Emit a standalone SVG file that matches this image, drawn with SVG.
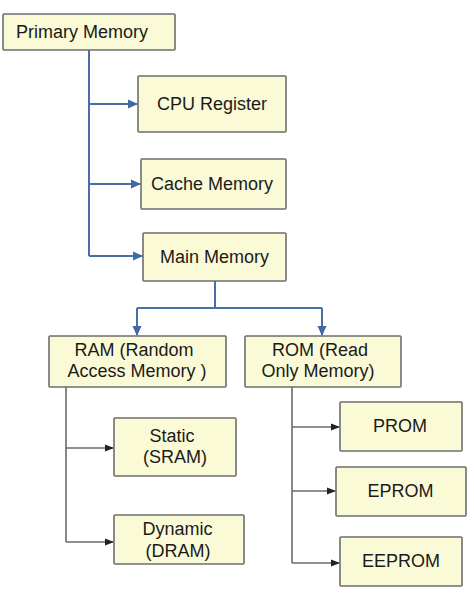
<svg xmlns="http://www.w3.org/2000/svg" width="474" height="614" viewBox="0 0 474 614">
<defs>
<marker id="ab" markerWidth="10" markerHeight="10" refX="9" refY="5" orient="auto" markerUnits="userSpaceOnUse"><path d="M0,0.5 L10,5 L0,9.5 Z" fill="#3f6aa6"/></marker>
<marker id="ak" markerWidth="9" markerHeight="8" refX="8" refY="4" orient="auto" markerUnits="userSpaceOnUse"><path d="M0,0.5 L9,4 L0,7.5 Z" fill="#222"/></marker>
</defs>
<style>
.box{fill:#fbfad6;stroke:#6e6e6e;stroke-width:1.6}
text{font-family:"Liberation Sans",Arial,sans-serif;font-size:18px;fill:#1a1a1a;text-anchor:middle}
.b{fill:none;stroke:#4a6fa5;stroke-width:2}
.k{fill:none;stroke:#6a6a6a;stroke-width:1.6}
</style>
<rect width="474" height="614" fill="#fff"/>
<g id="connectors">
<path class="b" d="M89,50 V256"/>
<path class="b" d="M89,104 H137" marker-end="url(#ab)"/>
<path class="b" d="M89,184 H140" marker-end="url(#ab)"/>
<path class="b" d="M89,256 H142" marker-end="url(#ab)"/>
<path class="b" d="M215,281 V308"/>
<path class="b" d="M137,308 H322"/>
<path class="b" d="M137,308 V335" marker-end="url(#ab)"/>
<path class="b" d="M322,308 V335" marker-end="url(#ab)"/>
<path class="k" d="M66,387 V542"/>
<path class="k" d="M66,448 H113" marker-end="url(#ak)"/>
<path class="k" d="M66,542 H113" marker-end="url(#ak)"/>
<path class="k" d="M292,387 V563"/>
<path class="k" d="M292,427 H339" marker-end="url(#ak)"/>
<path class="k" d="M292,491 H335" marker-end="url(#ak)"/>
<path class="k" d="M292,563 H339" marker-end="url(#ak)"/>
</g>
<g id="primary"><rect class="box" x="3" y="14" width="172" height="36" rx="1"/><text x="82" y="38">Primary Memory</text></g>
<g id="cpu"><rect class="box" x="138" y="76" width="148" height="56" rx="1"/><text x="212" y="110">CPU Register</text></g>
<g id="cache"><rect class="box" x="141" y="159" width="145" height="50" rx="1"/><text x="212" y="190">Cache Memory</text></g>
<g id="main"><rect class="box" x="143" y="233" width="143" height="48" rx="1"/><text x="214.5" y="263">Main Memory</text></g>
<g id="ram"><rect class="box" x="49" y="336" width="177" height="51" rx="1"/><text x="134" y="356">RAM (Random</text><text x="137" y="377">Access Memory )</text></g>
<g id="rom"><rect class="box" x="245" y="336" width="156" height="51" rx="1"/><text x="320" y="356">ROM (Read</text><text x="318" y="377">Only Memory)</text></g>
<g id="static"><rect class="box" x="114" y="418" width="122" height="58" rx="1"/><text x="172" y="442">Static</text><text x="175" y="463">(SRAM)</text></g>
<g id="dynamic"><rect class="box" x="114" y="515" width="130" height="49" rx="1"/><text x="177.5" y="535">Dynamic</text><text x="178" y="557">(DRAM)</text></g>
<g id="prom"><rect class="box" x="340" y="402" width="122" height="49" rx="1"/><text x="400" y="432">PROM</text></g>
<g id="eprom"><rect class="box" x="336" y="467" width="130" height="49" rx="1"/><text x="400.5" y="497">EPROM</text></g>
<g id="eeprom"><rect class="box" x="340" y="537" width="122" height="49" rx="1"/><text x="401" y="567">EEPROM</text></g>
</svg>
